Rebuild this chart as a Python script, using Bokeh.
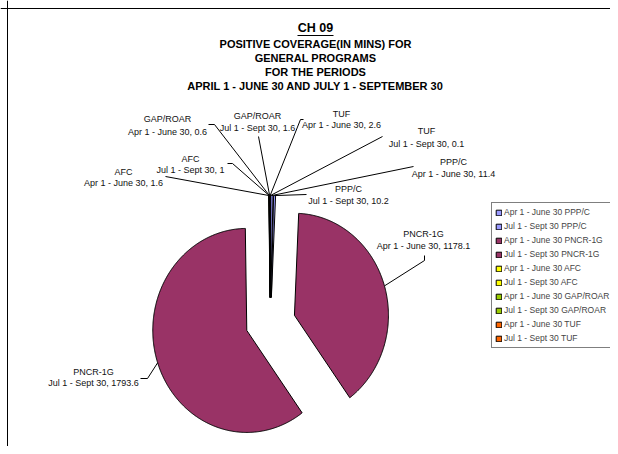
import numpy as np
from bokeh.plotting import figure
from bokeh.models import Range1d, Legend, LegendItem, Span, ColumnDataSource
from bokeh.core.properties import value
from bokeh.embed import file_html
from bokeh.resources import INLINE

# ---------------- data ----------------
programs = ["PPP/C", "PNCR-1G", "AFC", "GAP/ROAR", "TUF"]
periods = ["Apr 1 - June 30", "Jul 1 - Sept 30"]
apr_values = [11.4, 1178.1, 1.6, 0.6, 2.6]
jul_values = [10.2, 1793.6, 1, 1.6, 0.1]
program_colors = ["#9999FF", "#993366", "#FFFF00", "#99CC00", "#FF6600"]
title_lines = ["POSITIVE COVERAGE(IN MINS) FOR", "GENERAL PROGRAMS",
               "FOR THE PERIODS", "APRIL 1 - JUNE 30 AND JULY 1 - SEPTEMBER 30"]

# slice order: each program, Apr then Jul
sl_prog, sl_period, sl_val, sl_col = [], [], [], []
for prog, a, j, c in zip(programs, apr_values, jul_values, program_colors):
    for per, v in zip(periods, [a, j]):
        sl_prog.append(prog); sl_period.append(per); sl_val.append(v); sl_col.append(c)

# ---------------- layout (pixel coords, y down) ----------------
W, H = 610, 446
CX, CY = 270, 322         # pie centre
RX, RY = 94, 102          # pie radii
EXPLODE = 25

# label anchors (centre x, line1 y, line2 y) and leader elbow points, per slice
label_pos = [
    (453, 161, 173, [(413, 166)]),
    (348, 188, 200, [(306, 194)]),
    (423, 233, 245, [(424, 255), (424, 260)]),
    (93, 371, 382, [(140, 378), (147, 378)]),
    (123, 171, 182, [(165, 176)]),
    (190, 158, 169, [(227, 163), (232, 163)]),
    (167, 118, 131, [(208, 124), (214, 124)]),
    (257, 115, 127, [(258, 136)]),
    (341, 113, 124, [(303, 119), (300, 119)]),
    (426, 130, 143, [(382, 136)]),
]

p = figure(width=W, height=H, x_range=Range1d(0, W), y_range=Range1d(H, 0),
           x_axis_type=None, y_axis_type=None, output_backend="svg",
           toolbar_location=None, min_border=0)
p.grid.visible = False
p.outline_line_color = None
p.background_fill_color = "white"
p.border_fill_color = "white"

p.add_layout(Span(location=7, dimension="height", line_color="black", line_width=1))
p.add_layout(Span(location=8, dimension="width", line_color="black", line_width=1))

# ---------------- pie ----------------
total = sum(sl_val)
xs, ys, rim = [], [], []
start = 0.0
for v in sl_val:
    span = v / total * 360.0
    end = start + span
    mid = np.radians((start + end) / 2)
    ox, oy = EXPLODE * np.sin(mid), -EXPLODE * np.cos(mid)
    t = np.radians(np.linspace(start, end, max(3, int(span * 2) + 2)))
    px = CX + ox + RX * np.sin(t)
    py = CY + oy - RY * np.cos(t)
    xs.append([CX + ox] + list(px))
    ys.append([CY + oy] + list(py))
    rim.append((CX + ox + RX * np.sin(mid), CY + oy - RY * np.cos(mid)))
    start = end

src = ColumnDataSource(dict(xs=xs, ys=ys, color=sl_col))
pr = p.patches("xs", "ys", source=src, fill_color="color", line_color="black", line_width=1)

# ---------------- leaders and labels ----------------
lx, ly = [], []
for (cx_, y1, y2, elbows), (rx_, ry_) in zip(label_pos, rim):
    lx.append([e[0] for e in elbows] + [rx_])
    ly.append([e[1] for e in elbows] + [ry_])
p.multi_line(lx, ly, line_color="black", line_width=1)

name_src = ColumnDataSource(dict(x=[l[0] for l in label_pos], y=[l[1] for l in label_pos], t=sl_prog))
val_src = ColumnDataSource(dict(x=[l[0] for l in label_pos], y=[l[2] for l in label_pos],
                                t=[f"{per}, {v:g}" for per, v in zip(sl_period, sl_val)]))
for s in (name_src, val_src):
    p.text("x", "y", text="t", source=s, text_font=value("Liberation Sans"),
           text_font_size="9px", text_align="center", text_baseline="middle", text_color="#111111")

# ---------------- title ----------------
p.text(x=[315], y=[27], text=["CH 09"], text_font=value("Liberation Sans"), text_font_size="12.5px",
       text_font_style="bold", text_align="center", text_baseline="middle")
p.segment(x0=[297], y0=[35], x1=[333], y1=[35], line_color="black", line_width=1)
p.text(x=[315] * len(title_lines), y=[43, 57, 71, 85], text=title_lines,
       text_font=value("Liberation Sans"), text_font_size="11px", text_font_style="bold",
       text_align="center", text_baseline="middle")

# ---------------- legend ----------------
items = [LegendItem(label=f"{per} {prog}", renderers=[pr], index=i)
         for i, (per, prog) in enumerate(zip(sl_period, sl_prog))]
legend = Legend(items=items, location=(491, 98), label_text_font="Liberation Sans",
                label_text_font_size="8.5px", label_height=12, glyph_height=7, glyph_width=7,
                spacing=2, padding=3, label_standoff=2, margin=0,
                border_line_color="black", border_line_width=1, background_fill_alpha=1)
p.add_layout(legend)

open("out.html", "w").write(file_html(p, INLINE))
